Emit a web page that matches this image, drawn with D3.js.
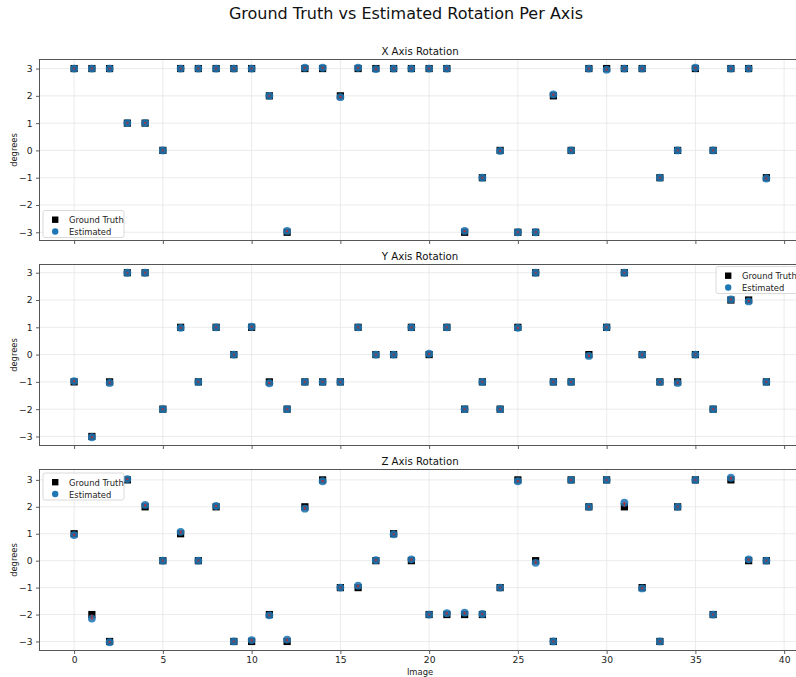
<!DOCTYPE html>
<html>
<head>
<meta charset="utf-8">
<script src="https://cdn.jsdelivr.net/npm/d3@7"></script>
<style>
  body { margin: 0; background: #fff; }
  svg { font-family: "DejaVu Sans", sans-serif; }
</style>
</head>
<body>
<svg id="chart" width="796" height="677"></svg>
<script>
// image indices 0..39
const images = d3.range(40);

// ground truth / estimated rotation (degrees) per axis
const gtX  = [3,3,3,1,1,0,3,3,3,3,3,2,-3,3,3,2,3,3,3,3,3,3,-3,-1,0,-3,-3,2,0,3,3,3,3,-1,0,3,0,3,3,-1];
const estX = [3,3,3,1,1,0,3,3,3,3,3,2,-2.95,3.03,3.03,1.95,3.03,2.98,3,3,3,3,-2.95,-1,-0.02,-3,-3,2.05,0,3,2.96,3,3,-1,0,3.03,0,3,3,-1.03];

const gtY  = [-1,-3,-1,3,3,-2,1,-1,1,0,1,-1,-2,-1,-1,-1,1,0,0,1,0,1,-2,-1,-2,1,3,-1,-1,0,1,3,0,-1,-1,0,-2,2,2,-1];
const estY = [-0.97,-3.03,-1.04,3,3,-2,0.98,-1,1,0,1.02,-1.05,-2,-1,-1,-1,1,0,0,1,0.03,1,-2,-1,-2,0.98,3,-1,-1,-0.05,1,3,0,-1,-1.04,0,-2,2.02,1.95,-1];

const gtZ  = [1,-2,-3,3,2,0,1,0,2,-3,-3,-2,-3,2,3,-1,-1,0,1,0,-2,-2,-2,-2,-1,3,0,-3,3,2,3,2,-1,-3,2,3,-2,3,0,0];
const estZ = [0.95,-2.15,-3.03,3.03,2.07,0,1.07,0,2.03,-3,-2.95,-2.03,-2.93,1.93,2.95,-1,-0.93,0.02,0.98,0.05,-2,-1.95,-1.93,-1.98,-1,2.95,-0.08,-3,3,2,3,2.15,-1.03,-3,2,3,-2,3.08,0.05,0];

const panelTitles = ["X Axis Rotation", "Y Axis Rotation", "Z Axis Rotation"];
const legendPos = ["lower left", "upper right", "upper left"];
const xTicks = [0,5,10,15,20,25,30,35,40];
const yTicks = [-3,-2,-1,0,1,2,3];

const panels = [
  {gt: gtX, est: estX},
  {gt: gtY, est: estY},
  {gt: gtZ, est: estZ}
];

const svg = d3.select("#chart");
const left = 39.5, right = 801, height = 181;
const tops = [59.5, 264.5, 469.5];
const blue = "#1f77b4";

svg.append("text")
  .attr("x", 406).attr("y", 19)
  .attr("text-anchor", "middle")
  .attr("font-size", 16)
  .attr("fill", "#111")
  .text("Ground Truth vs Estimated Rotation Per Axis");

const x = d3.scaleLinear().domain([-1.95, 40.95]).range([left, right]);

panels.forEach(function(p, k) {
  const top = tops[k];
  const all = p.gt.concat(p.est);
  const lo = d3.min(all), hi = d3.max(all), m = (hi - lo) * 0.05;
  const y = d3.scaleLinear().domain([lo - m, hi + m]).range([top + height, top]);

  const g = svg.append("g");

  // grid
  g.selectAll("line.gx").data(xTicks).enter().append("line")
    .attr("x1", d => x(d)).attr("x2", d => x(d))
    .attr("y1", top).attr("y2", top + height)
    .attr("stroke", "#e6e6e6").attr("stroke-width", 0.8);
  g.selectAll("line.gy").data(yTicks).enter().append("line")
    .attr("x1", left).attr("x2", right)
    .attr("y1", d => y(d)).attr("y2", d => y(d))
    .attr("stroke", "#e6e6e6").attr("stroke-width", 0.8);

  // axes
  const xa = d3.axisBottom(x).tickValues(xTicks).tickSize(3.5).tickPadding(2.5)
    .tickFormat(k === 2 ? d3.format("d") : "");
  const xg = g.append("g").attr("transform", `translate(0,${top + height})`).call(xa);
  const ya = d3.axisLeft(y).tickValues(yTicks).tickSize(3.5).tickPadding(3.5)
    .tickFormat(d => d < 0 ? "\u2212" + Math.abs(d) : d);
  const yg = g.append("g").attr("transform", `translate(${left},0)`).call(ya);
  [xg, yg].forEach(function(a) {
    a.select(".domain").remove();
    a.selectAll("line").attr("stroke", "#333").attr("stroke-width", 0.8);
    a.selectAll("text").attr("font-size", 9.2).attr("fill", "#222")
      .attr("font-family", "DejaVu Sans, sans-serif");
  });

  // frame
  g.append("rect")
    .attr("x", left).attr("y", top)
    .attr("width", right - left).attr("height", height)
    .attr("fill", "none").attr("stroke", "#555").attr("stroke-width", 1);

  g.append("text")
    .attr("x", 420).attr("y", top - 5)
    .attr("text-anchor", "middle").attr("font-size", 10.2).attr("fill", "#111")
    .text(panelTitles[k]);

  g.append("text")
    .attr("transform", `translate(17,${top + height / 2}) rotate(-90)`)
    .attr("text-anchor", "middle").attr("font-size", 8.4).attr("fill", "#222")
    .text("degrees");

  // markers
  g.selectAll("rect.gt").data(images).enter().append("rect")
    .attr("x", i => x(i) - 3.6).attr("y", i => y(p.gt[i]) - 3.6)
    .attr("width", 7.2).attr("height", 7.2).attr("fill", "#000");
  g.selectAll("circle.est").data(images).enter().append("circle")
    .attr("cx", i => x(i)).attr("cy", i => y(p.est[i]))
    .attr("r", 3.9).attr("fill", blue).attr("fill-opacity", 0.88);
  g.selectAll("line.err").data(images).enter().append("line")
    .attr("x1", i => x(i)).attr("x2", i => x(i))
    .attr("y1", i => y(p.gt[i])).attr("y2", i => y(p.est[i]))
    .attr("stroke", "#d62728").attr("stroke-width", 1.2).attr("opacity", 0.8);
  g.selectAll("path.errx").data(images).enter().append("path")
    .attr("d", i => `M${x(i) - 1.2},${y(p.est[i]) - 1.2}l2.4,2.4M${x(i) + 1.2},${y(p.est[i]) - 1.2}l-2.4,2.4`)
    .attr("stroke", "#d62728").attr("stroke-width", 0.9).attr("opacity", 0.8);

  // legend
  let lx, ly;
  if (legendPos[k] === "lower left") { lx = 43; ly = top + height - 30; }
  else if (legendPos[k] === "upper left") { lx = 43; ly = top + 3.5; }
  else { lx = 716; ly = top + 2; }
  const lg = g.append("g").attr("transform", `translate(${lx},${ly})`);
  lg.append("rect").attr("width", 81).attr("height", 27).attr("rx", 2)
    .attr("fill", "#fff").attr("fill-opacity", 0.85)
    .attr("stroke", "#d0d0d0").attr("stroke-width", 0.8);
  lg.append("rect").attr("x", 9).attr("y", 6).attr("width", 6.4).attr("height", 6.4).attr("fill", "#000");
  lg.append("circle").attr("cx", 12.2).attr("cy", 21).attr("r", 3.2).attr("fill", blue);
  lg.append("text").attr("x", 26).attr("y", 12.5).attr("font-size", 8.4).attr("fill", "#222").text("Ground Truth");
  lg.append("text").attr("x", 26).attr("y", 24.5).attr("font-size", 8.4).attr("fill", "#222").text("Estimated");
});

svg.append("text")
  .attr("x", 420).attr("y", 675)
  .attr("text-anchor", "middle").attr("font-size", 8.4).attr("fill", "#222")
  .text("Image");
</script>
</body>
</html>
